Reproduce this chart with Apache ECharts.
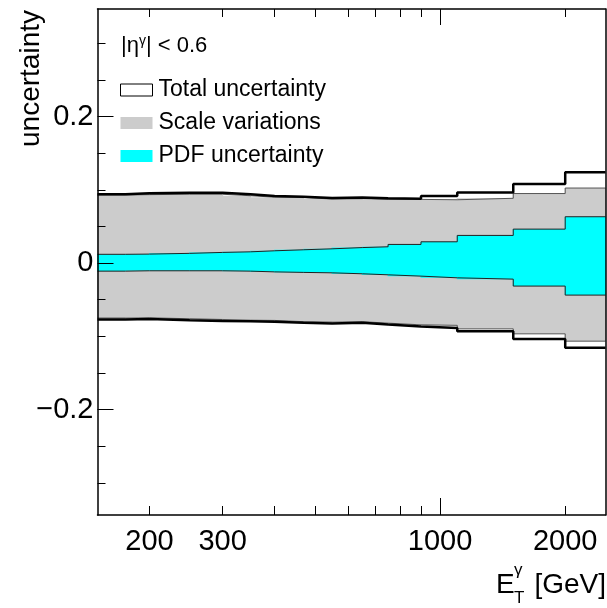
<!DOCTYPE html>
<html><head><meta charset="utf-8">
<script src="https://cdn.jsdelivr.net/npm/echarts@6/dist/echarts.min.js"></script>
<style>html,body{margin:0;padding:0;background:#fff}#c{width:607px;height:608px}</style>
</head><body><div id="c"></div>
<script>
// bin edges in GeV
const binEdges = [150,175,200,250,300,350,400,470,550,650,750,900,1100,1500,2000,2500];
// relative uncertainties per bin
const totalUp   = [0.094,0.0955,0.096,0.096,0.094,0.0915,0.0905,0.089,0.0895,0.0885,0.088,0.0915,0.0965,0.108,0.124];
const totalDown = [-0.077,-0.0765,-0.078,-0.079,-0.0795,-0.080,-0.0815,-0.0825,-0.0815,-0.084,-0.0865,-0.0885,-0.093,-0.1035,-0.1155];
const scaleUp   = [0.093,0.0935,0.094,0.094,0.092,0.090,0.0895,0.0875,0.088,0.087,0.087,0.0865,0.0885,0.095,0.1025];
const scaleDown = [-0.075,-0.0747,-0.076,-0.077,-0.078,-0.0783,-0.080,-0.0806,-0.080,-0.082,-0.0843,-0.085,-0.0898,-0.0966,-0.1066];
const pdfUp     = [0.012,0.0123,0.0133,0.0146,0.0154,0.0168,0.0182,0.0195,0.0212,0.0223,0.0255,0.0291,0.0378,0.0464,0.0633];
const pdfDown   = [-0.011,-0.0105,-0.0105,-0.0105,-0.011,-0.012,-0.0127,-0.0133,-0.0146,-0.016,-0.0178,-0.0201,-0.0219,-0.0314,-0.0437];
// ticks
const xTickMinor = [200,300,400,500,600,700,800,900,2000];
const xTickMajor = [1000];
const xTickLabels = [200,300,1000,2000];
const yTickMajor = [-0.2,0,0.2];
const yTickMinor = [-0.3,-0.25,-0.15,-0.1,-0.05,0.05,0.1,0.15,0.25,0.3];
const xRange = [150,2500];
const yRange = [-0.344,0.347];

const FONT = "'Liberation Sans', Arial, Helvetica, sans-serif";
const lg = v => Math.log10(v);

function bandData(lo, hi){
  return lo.map((l,i)=>[binEdges[i], binEdges[i+1], l, hi[i]]);
}
function stepData(arr){
  return binEdges.map((e,i)=>[e, arr[Math.min(i, arr.length-1)]]);
}
function bandRender(color){
  return function(params, api){
    const a = api.coord([api.value(0), api.value(3)]);
    const b = api.coord([api.value(1), api.value(2)]);
    return {type:'rect', shape:{x:a[0]-0.5, y:a[1], width:b[0]-a[0]+1, height:b[1]-a[1]},
      style:{fill:color}};
  };
}
function stepLine(name, arr, color, width){
  return {type:'line', name:name, xAxisIndex:0, yAxisIndex:0, step:'end', symbol:'none',
    data: stepData(arr), lineStyle:{color:color, width:width}, itemStyle:{color:color}, z:3,
    emphasis:{disabled:true}, silent:true};
}
function xAx(pos, line, len, vals, labelVals){
  return {type:'value', position:pos, min:lg(xRange[0]), max:lg(xRange[1]), z:10,
    axisLine:{show:line, onZero:false, lineStyle:{color:'#000', width:1.5}},
    axisTick:{show:true, inside:true, length:len, customValues:vals.map(lg), lineStyle:{color:'#000', width:1}},
    axisLabel: labelVals ? {show:true, customValues:labelVals.map(lg), formatter:v=>String(Math.round(Math.pow(10,v))),
      fontSize:29, color:'#000', fontFamily:FONT, margin:12} : {show:false},
    splitLine:{show:false}};
}
function yAx(pos, line, len, vals, labelVals){
  return {type:'value', position:pos, min:yRange[0], max:yRange[1], z:10,
    axisLine:{show:line, onZero:false, lineStyle:{color:'#000', width:1.5}},
    axisTick: vals ? {show:true, inside:true, length:len, customValues:vals, lineStyle:{color:'#000', width:1}} : {show:false},
    axisLabel: labelVals ? {show:true, customValues:labelVals,
      formatter:v=> (Math.abs(v)<1e-9 ? '0' : (v<0 ? '\u2212'+Math.abs(v) : String(v))),
      fontSize:29, color:'#000', fontFamily:FONT, margin:4} : {show:false},
    splitLine:{show:false}};
}

const xAxes = [
  {type:'log', min:xRange[0], max:xRange[1], show:false, position:'bottom', axisLine:{onZero:false}},
  xAx('bottom', true, 9, xTickMinor, xTickLabels),
  xAx('bottom', false, 17, xTickMajor, null),
  xAx('top', true, 8, xTickMinor, null),
  xAx('top', false, 16, xTickMajor, null)
];
const yAxes = [
  yAx('left', true, 16, yTickMajor, yTickMajor),
  yAx('left', false, 8, yTickMinor, null),
  yAx('right', true, 0, null, null)
];

const chart = echarts.init(document.getElementById('c'), null, {renderer:'canvas'});
chart.setOption({
  animation:false,
  backgroundColor:'#fff',
  grid:{left:97.5, right:1.5, top:9, bottom:93, containLabel:false},
  xAxis:xAxes,
  yAxis:yAxes,
  legend:{show:true, orient:'vertical', left:115, top:73, itemWidth:32, itemHeight:12, itemGap:9,
    selectedMode:false,
    textStyle:{fontSize:23, color:'#000', fontFamily:FONT, lineHeight:24, padding:[0,0,0,1]},
    data:[
      {name:'Total uncertainty', icon:'rect', itemStyle:{color:'#fff', borderColor:'#000', borderWidth:1}},
      {name:'Scale variations', icon:'rect', itemStyle:{color:'#cccccc', borderWidth:0}},
      {name:'PDF uncertainty', icon:'rect', itemStyle:{color:'#00ffff', borderWidth:0}}
    ]},
  graphic:[
    {type:'text', x:121, y:46, style:{text:'|η{s|γ}| < 0.6', fill:'#000', font:'22px '+FONT,
      verticalAlign:'middle', lineHeight:23,
      rich:{s:{fontSize:14, fontFamily:FONT, verticalAlign:'top', lineHeight:14, fill:'#000'}}}},
    {type:'text', x:31, y:10, rotation:Math.PI/2, style:{text:'uncertainty', fill:'#000', font:'28px '+FONT,
      align:'right', verticalAlign:'middle'}},
    {type:'text', x:606, y:585, style:{text:'[GeV]', fill:'#000', font:'28px '+FONT, align:'right', verticalAlign:'middle'}},
    {type:'text', x:496, y:585, style:{text:'E', fill:'#000', font:'28px '+FONT, align:'left', verticalAlign:'middle'}},
    {type:'text', x:514, y:570, style:{text:'γ', fill:'#000', font:'17px '+FONT, align:'left', verticalAlign:'middle'}},
    {type:'text', x:514, y:598, style:{text:'T', fill:'#000', font:'17px '+FONT, align:'left', verticalAlign:'middle'}}
  ],
  series:[
    {type:'custom', name:'Scale variations', xAxisIndex:0, yAxisIndex:0, renderItem:bandRender('#cccccc'),
      encode:{x:[0,1], y:[2,3]}, data:bandData(scaleDown, scaleUp), itemStyle:{color:'#cccccc'}, z:2, silent:true, clip:true},
    stepLine('', scaleUp, '#555', 1),
    stepLine('', scaleDown, '#555', 1),
    {type:'custom', name:'PDF uncertainty', xAxisIndex:0, yAxisIndex:0, renderItem:bandRender('#00ffff'),
      encode:{x:[0,1], y:[2,3]}, data:bandData(pdfDown, pdfUp), itemStyle:{color:'#00ffff'}, z:3, silent:true, clip:true},
    stepLine('', pdfUp, '#222', 1),
    stepLine('', pdfDown, '#222', 1),
    stepLine('Total uncertainty', totalUp, '#000', 2.5),
    stepLine('Total uncertainty', totalDown, '#000', 2.5)
  ]
});
</script></body></html>
